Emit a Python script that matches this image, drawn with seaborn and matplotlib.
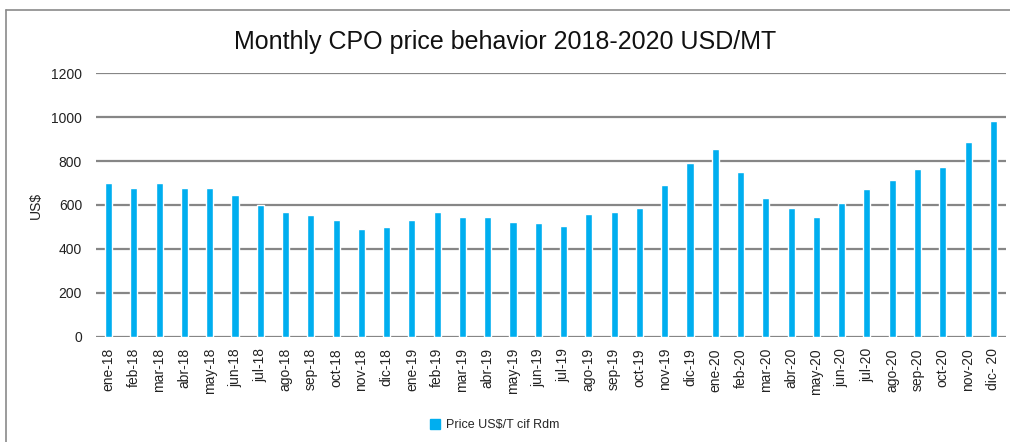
import matplotlib
matplotlib.use('Agg')
import matplotlib.pyplot as plt
import matplotlib.patches as mpatches
from matplotlib.lines import Line2D
import pandas as pd
import seaborn as sns

# monthly CPO prices
months = ['ene-18', 'feb-18', 'mar-18', 'abr-18', 'may-18', 'jun-18', 'jul-18', 'ago-18',
          'sep-18', 'oct-18', 'nov-18', 'dic-18',
          'ene-19', 'feb-19', 'mar-19', 'abr-19', 'may-19', 'jun-19', 'jul-19', 'ago-19',
          'sep-19', 'oct-19', 'nov-19', 'dic-19',
          'ene-20', 'feb-20', 'mar-20', 'abr-20', 'may-20', 'jun-20', 'jul-20', 'ago-20',
          'sep-20', 'oct-20', 'nov-20', 'dic- 20']
prices = [700, 677, 700, 677, 677, 645, 600, 568, 555, 532, 491, 500,
          532, 568, 545, 545, 523, 518, 505, 559, 568, 586, 691, 791,
          855, 750, 632, 586, 545, 609, 673, 714, 764, 773, 886, 982]
yticks = [0, 200, 400, 600, 800, 1000, 1200]
series_name = 'Price US$/T cif Rdm'

df = pd.DataFrame({'month': months, 'price': prices})

sns.set_style('white')
plt.rcParams['font.family'] = ['Liberation Sans', 'DejaVu Sans']

bar_color = '#00AEEF'
grid_color = '#868686'

fig = plt.figure(figsize=(10.1, 4.42), dpi=100)
ax = fig.add_axes([0.095, 0.2376, 0.901, 0.5972])

sns.barplot(data=df, x='month', y='price', color=bar_color, width=0.28,
            saturation=1, ax=ax, zorder=3)

ax.set_ylim(0, 1200)
ax.set_yticks(yticks)
ax.set_xlim(-0.5, len(months) - 0.5)
for y in yticks:
    ax.axhline(y, color=grid_color, lw=1.6, zorder=1)

for s in ['top', 'right', 'left', 'bottom']:
    ax.spines[s].set_visible(False)

ax.tick_params(axis='y', length=0, pad=10, labelsize=10, colors='#222222')
ax.tick_params(axis='x', length=0, pad=8, labelsize=10, colors='#222222', rotation=90)
ax.set_xlabel('')
ax.set_ylabel('US$', fontsize=10, color='#222222', labelpad=6)

fig.text(0.5, 0.905, 'Monthly CPO price behavior 2018-2020 USD/MT',
         ha='center', va='center', fontsize=18, color='#111111')

handle = mpatches.Patch(color=bar_color, label=series_name)
fig.legend(handles=[handle], loc='center', bbox_to_anchor=(0.49, 0.038),
           frameon=False, fontsize=9, handlelength=0.8, handleheight=0.8,
           handletextpad=0.5)

# outer frame: only top and left edges are visible
fig.add_artist(Line2D([0.006, 1.0], [0.977, 0.977], transform=fig.transFigure,
                      color='#8a8a8a', lw=1.2))
fig.add_artist(Line2D([0.006, 0.006], [0.0, 0.977], transform=fig.transFigure,
                      color='#8a8a8a', lw=1.2))

fig.savefig('out.png', dpi=100)
